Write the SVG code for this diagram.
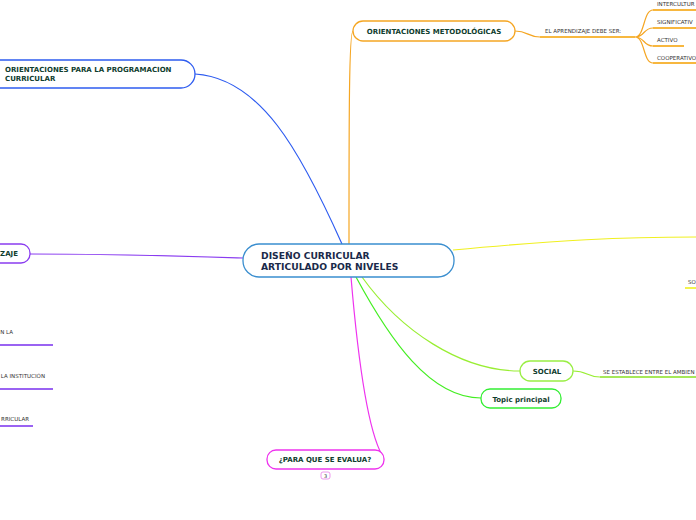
<svg xmlns="http://www.w3.org/2000/svg" width="696" height="520" viewBox="0 0 696 520">
<style>
.node{fill:#fff;stroke-width:1.3}
.t{font-family:Verdana,"DejaVu Sans",sans-serif;font-weight:bold;fill:#0f3d2e}
.s{font-family:Verdana,"DejaVu Sans",sans-serif;fill:#333;font-size:5.5px}
.c{fill:none;stroke-width:1.2}
.u{fill:none;stroke-width:1.6}
</style>
<rect width="696" height="520" fill="#fff"/>
<g id="connectors">
<path class="c" stroke="#f5a623" d="M349,244 C349,120 349,31 353,31"/>
<path class="c" stroke="#2e5cf0" d="M195,74 C260,78 300,150 342,244"/>
<path class="c" stroke="#8a3cf0" d="M30,254 C120,254 180,256 243,258"/>
<path class="c" stroke="#f0f020" d="M453,250 C560,240 620,237 696,237"/>
<path class="c" stroke="#99ee33" d="M362,277 C400,330 460,371 520,371"/>
<path class="c" stroke="#44ee22" d="M356,277 C390,340 430,398 481,398"/>
<path class="c" stroke="#ee33ee" d="M351,277 C358,360 368,430 382,455"/>
<path class="c" stroke="#f5a623" d="M515,31 C528,31 528,37 540,37"/>
<path class="u" stroke="#f5a000" d="M540,37 H635"/>
<path class="c" stroke="#f5a623" d="M635,37 C645,37 643,10 653,10 M635,37 C645,37 643,28 653,28 M635,37 C645,37 643,46 653,46 M635,37 C645,37 643,63 653,63"/>
<path class="u" stroke="#f5a000" d="M653,10 H696 M653,28 H696 M653,46 H684 M653,63 H696"/>
<path class="c" stroke="#99ee33" d="M573,371 C588,371 586,377 600,377"/>
<path class="u" stroke="#88e022" d="M600,377 H696"/>
<path class="u" stroke="#f0f020" d="M685,288 H696"/>
<path class="u" stroke="#7a30ee" d="M0,345 H53 M0,389 H53 M0,426 H33"/>
</g>
<g id="central">
<rect class="node" x="243" y="244" width="211" height="33" rx="16" stroke="#3a8ecf"/>
<text class="t" x="261" y="259" font-size="9.2" style="fill:#1a2a4a">DISEÑO CURRICULAR</text>
<text class="t" x="261" y="270" font-size="9.2" style="fill:#1a2a4a">ARTICULADO POR NIVELES</text>
</g>
<g id="orientaciones-metodologicas">
<rect class="node" x="353" y="21" width="162" height="20" rx="10" stroke="#f5a623"/>
<text class="t" x="434" y="34" font-size="7" text-anchor="middle">ORIENTACIONES METODOLÓGICAS</text>
</g>
<g id="aprendizaje">
<text class="s" x="545" y="33">EL APRENDIZAJE DEBE SER:</text>
</g>
<g id="intercultural"><text class="s" x="657" y="6">INTERCULTUR</text></g>
<g id="significativo"><text class="s" x="657" y="24">SIGNIFICATIV</text></g>
<g id="activo"><text class="s" x="657" y="42">ACTIVO</text></g>
<g id="cooperativo"><text class="s" x="657" y="60">COOPERATIVO</text></g>
<g id="orientaciones-programacion">
<rect class="node" x="-20" y="60" width="215" height="28" rx="14" stroke="#2e5cf0"/>
<text class="t" x="5" y="72" font-size="7">ORIENTACIONES PARA LA PROGRAMACION</text>
<text class="t" x="5" y="81" font-size="7">CURRICULAR</text>
</g>
<g id="aprendizaje-node">
<rect class="node" x="-20" y="244" width="50" height="19" rx="9" stroke="#8a3cf0"/>
<text class="t" x="18" y="256" font-size="7" text-anchor="end">ZAJE</text>
</g>
<g id="left-1"><text class="s" x="13" y="334" text-anchor="end">N LA</text></g>
<g id="left-2"><text class="s" x="45" y="378" text-anchor="end">LA INSTITUCIÓN</text></g>
<g id="left-3"><text class="s" x="29" y="421" text-anchor="end">RRICULAR</text></g>
<g id="so"><text class="s" x="688" y="284">SO</text></g>
<g id="social">
<rect class="node" x="520" y="361" width="53" height="20" rx="10" stroke="#99ee44"/>
<text class="t" x="547" y="374" font-size="7" text-anchor="middle">SOCIAL</text>
</g>
<g id="se-establece"><text class="s" x="603" y="374">SE ESTABLECE ENTRE EL AMBIEN</text></g>
<g id="topic-principal">
<rect class="node" x="481" y="389" width="80" height="19" rx="9" stroke="#33ee33"/>
<text class="t" x="521" y="402" font-size="7" text-anchor="middle">Topic principal</text>
</g>
<g id="para-que-se-evalua">
<rect class="node" x="267" y="450" width="117" height="19" rx="9" stroke="#ee33ee"/>
<text class="t" x="325" y="462" font-size="7" text-anchor="middle">¿PARA QUE SE EVALUA?</text>
<rect x="321" y="472" width="9" height="7" rx="2" fill="#fff" stroke="#e880e8" stroke-width="0.8"/>
<text class="s" x="325.5" y="477.5" text-anchor="middle" style="font-size:5px">3</text>
</g>
</svg>
